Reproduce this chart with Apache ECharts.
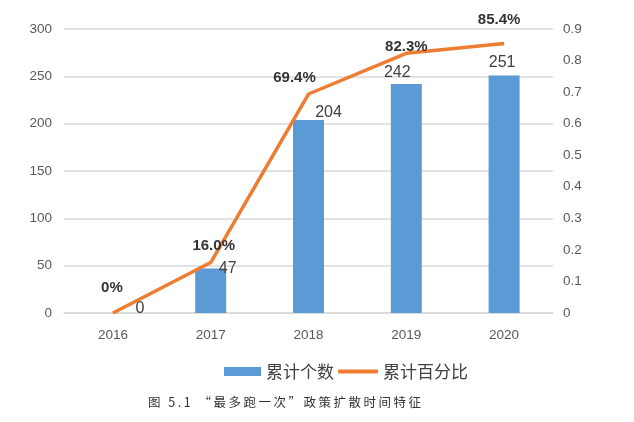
<!DOCTYPE html>
<html><head><meta charset="utf-8">
<script src="https://cdn.jsdelivr.net/npm/echarts@6/dist/echarts.min.js"></script>
<style>html,body{margin:0;padding:0;background:#fff}#c{width:634px;height:422px}</style>
</head><body><div id="c"></div>
<script>
var categories = ['2016', '2017', '2018', '2019', '2020'];
var countValues = [0, 47, 204, 242, 251];
var percentValues = [0, 0.16, 0.694, 0.823, 0.854];
var countName = '累计个数';
var percentName = '累计百分比';
var caption = '图 5.1 “最多跑一次”政策扩散时间特征';

// label nudges (style only)
var barLabelOffsets = [[27, 9], [17, 13], [20, 6], [-9, 2], [-2, 0]];
var lineLabelOffsets = [[-1, -13], [3, -4], [-14, -4], [0, 6], [-5, -11]];

var chart = echarts.init(document.getElementById('c'));
var baseFont = 'Liberation Sans, Arial, sans-serif';
var axisLabelStyle = { color: '#595959', fontSize: 13.5, fontFamily: baseFont };
var legendText = { fontSize: 17, color: '#404040', fontFamily: 'Noto Sans CJK SC' };
chart.setOption({
  animation: false,
  grid: { left: 64, right: 81, top: 29, bottom: 109 },
  legend: [
    { top: 358, left: 219, itemGap: 0, itemWidth: 37, itemHeight: 9,
      textStyle: legendText, data: [{ name: countName, icon: 'rect' }] },
    { top: 358, left: 333, itemGap: 0, itemWidth: 40, itemHeight: 4,
      textStyle: legendText, data: [{ name: percentName, icon: 'roundRect' }] }
  ],
  xAxis: {
    type: 'category', data: categories,
    axisLine: { lineStyle: { color: '#D9D9D9', width: 1.5 } },
    axisTick: { show: false },
    axisLabel: Object.assign({ margin: 15 }, axisLabelStyle)
  },
  yAxis: [
    { type: 'value', min: 0, max: 300, interval: 50,
      axisLine: { show: false }, axisTick: { show: false },
      splitLine: { lineStyle: { color: '#D9D9D9', width: 1.5 } },
      axisLabel: Object.assign({ margin: 12 }, axisLabelStyle) },
    { type: 'value', min: 0, max: 0.9, interval: 0.1,
      axisLine: { show: false }, axisTick: { show: false },
      splitLine: { show: false },
      axisLabel: Object.assign({ margin: 10, formatter: function (v) { return +v.toFixed(1) + ''; } }, axisLabelStyle) }
  ],
  series: [
    { name: countName, type: 'bar', barWidth: 31, yAxisIndex: 0,
      itemStyle: { color: '#5B9BD5' },
      data: countValues.map(function (v, i) {
        return { value: v, label: { offset: barLabelOffsets[i] } };
      }),
      label: { show: true, position: 'top', distance: 5, color: '#404040', fontSize: 16, fontFamily: baseFont } },
    { name: percentName, type: 'line', yAxisIndex: 1, symbol: 'none',
      lineStyle: { color: '#ED7D31', width: 3.5 }, itemStyle: { color: '#ED7D31' },
      data: percentValues },
    { name: 'percentLabels', type: 'scatter', yAxisIndex: 1, symbolSize: 0, silent: true, z: 5,
      itemStyle: { color: '#ED7D31', opacity: 1 },
      data: percentValues.map(function (v, i) {
        return { value: v, label: { offset: lineLabelOffsets[i] } };
      }),
      label: { show: true, position: 'top', distance: 5, color: '#333333', opacity: 1, fontSize: 15, fontWeight: 'bold',
        fontFamily: baseFont,
        formatter: function (p) { return p.value === 0 ? '0%' : (p.value * 100).toFixed(1) + '%'; } } }
  ],
  graphic: [{ type: 'text', left: 148, top: 396,
    style: { text: caption.split('').join('\u2009'), fontSize: 12.5, fill: '#333', fontFamily: 'Noto Sans CJK SC' } }]
});
</script></body></html>
